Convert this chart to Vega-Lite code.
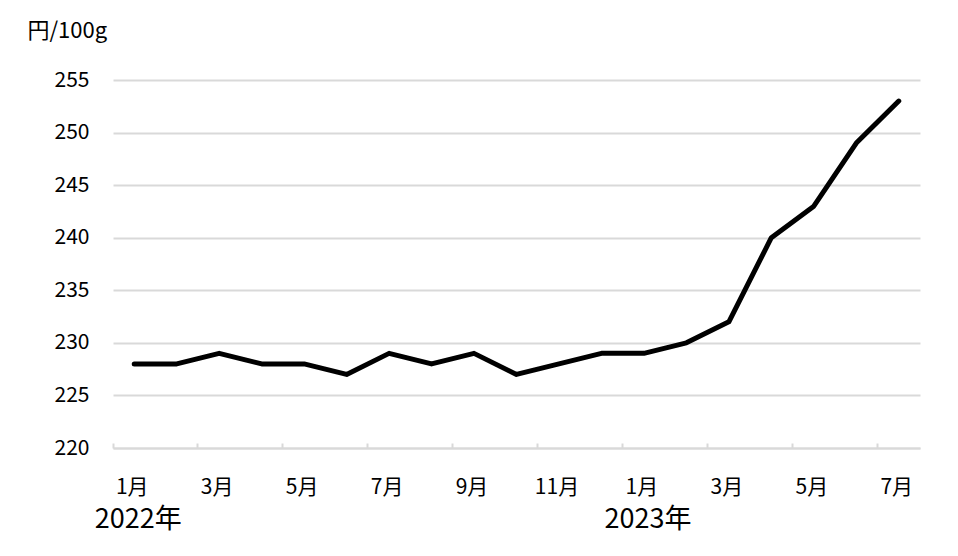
{
  "$schema": "https://vega.github.io/schema/vega-lite/v6.json",
  "width": 807,
  "height": 368,
  "autosize": "none",
  "padding": {"left": 113, "top": 80, "right": 38, "bottom": 108},
  "background": "white",
  "config": {
    "view": {"stroke": null},
    "font": "Noto Sans CJK JP"
  },
  "layer": [
    {
      "data": {
        "values": [
          {"ym": "2022-01", "price": 228},
          {"ym": "2022-02", "price": 228},
          {"ym": "2022-03", "price": 229},
          {"ym": "2022-04", "price": 228},
          {"ym": "2022-05", "price": 228},
          {"ym": "2022-06", "price": 227},
          {"ym": "2022-07", "price": 229},
          {"ym": "2022-08", "price": 228},
          {"ym": "2022-09", "price": 229},
          {"ym": "2022-10", "price": 227},
          {"ym": "2022-11", "price": 228},
          {"ym": "2022-12", "price": 229},
          {"ym": "2023-01", "price": 229},
          {"ym": "2023-02", "price": 230},
          {"ym": "2023-03", "price": 232},
          {"ym": "2023-04", "price": 240},
          {"ym": "2023-05", "price": 243},
          {"ym": "2023-06", "price": 249},
          {"ym": "2023-07", "price": 253}
        ]
      },
      "mark": {"type": "line", "color": "black", "strokeWidth": 5, "strokeCap": "round", "strokeJoin": "round"},
      "encoding": {
        "x": {
          "field": "ym",
          "type": "ordinal",
          "scale": {"type": "band", "paddingInner": 0, "paddingOuter": 0},
          "axis": {
            "title": null,
            "values": ["2022-01", "2022-03", "2022-05", "2022-07", "2022-09", "2022-11", "2023-01", "2023-03", "2023-05", "2023-07"],
            "labelExpr": "toNumber(slice(datum.value, 5)) + '月'",
            "bandPosition": 0,
            "labelOffset": -2,
            "labelAngle": 0,
            "labelFontSize": 21,
            "labelColor": "black",
            "labelPadding": 33,
            "tickSize": -5,
            "tickColor": "#d9d9d9",
            "tickWidth": 2,
            "domainColor": "#d9d9d9",
            "domainWidth": 2,
            "grid": false
          }
        },
        "y": {
          "field": "price",
          "type": "quantitative",
          "scale": {"domain": [220, 255], "nice": false, "zero": false},
          "axis": {
            "title": "円/100g",
            "titleAngle": 0,
            "titleAlign": "left",
            "titleBaseline": "middle",
            "titleX": -86,
            "titleY": -50,
            "titleFontSize": 22,
            "titleFontWeight": "normal",
            "titleColor": "black",
            "values": [220, 225, 230, 235, 240, 245, 250, 255],
            "labelFontSize": 21,
            "labelColor": "black",
            "labelPadding": 24,
            "ticks": false,
            "domain": false,
            "gridColor": "#d9d9d9",
            "gridWidth": 2
          }
        }
      }
    },
    {
      "data": {
        "values": [
          {"ym": "2022-01", "year": "2022年"},
          {"ym": "2023-01", "year": "2023年"}
        ]
      },
      "mark": {"type": "text", "fontSize": 27, "color": "black", "align": "center", "baseline": "middle", "dx": 4, "dy": 72},
      "encoding": {
        "x": {"field": "ym", "type": "ordinal"},
        "y": {"datum": 220},
        "text": {"field": "year"}
      }
    }
  ]
}
